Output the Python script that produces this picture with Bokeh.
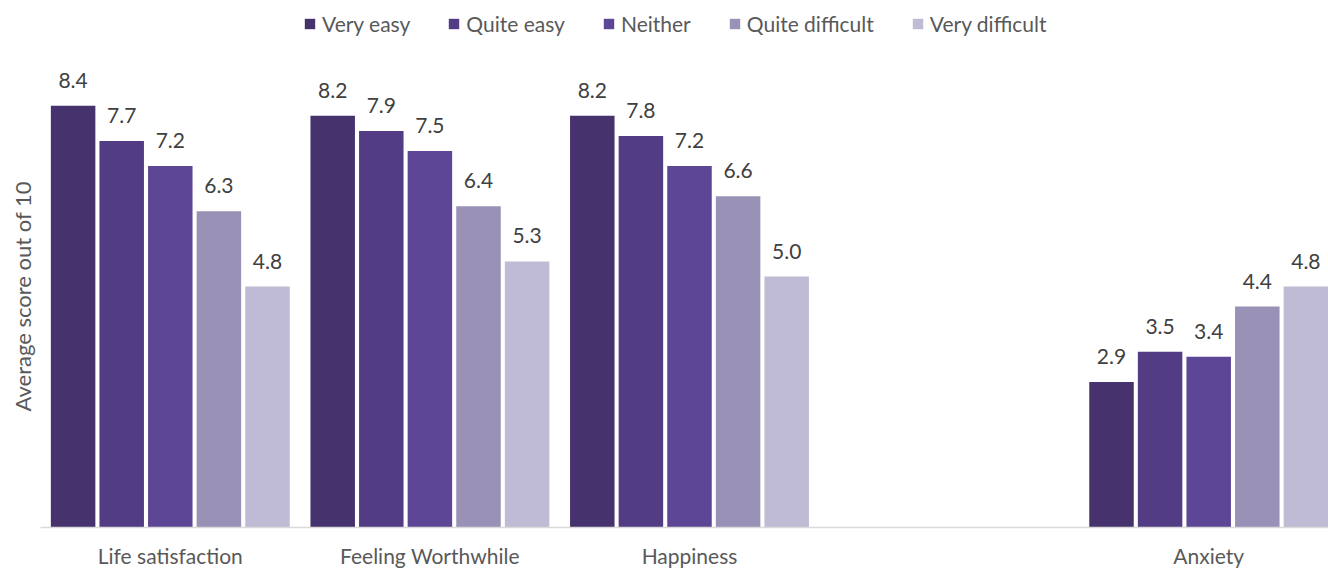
from bokeh.plotting import figure
from bokeh.models import (ColumnDataSource, Range1d, FixedTicker, LabelSet,
                          Legend, LegendItem, Title)
from bokeh.core.properties import value
from bokeh.embed import file_html
from bokeh.resources import INLINE

# Survey results: average wellbeing score out of 10 by how easy people find it to get by
categories = ["Life satisfaction", "Feeling Worthwhile", "Happiness", "Anxiety"]
slots = [0, 1, 2, 4]  # category slot on the axis (slot 3 left empty)
series_names = ["Very easy", "Quite easy", "Neither", "Quite difficult", "Very difficult"]
very_easy = [8.4, 8.2, 8.2, 2.9]
quite_easy = [7.7, 7.9, 7.8, 3.5]
neither = [7.2, 7.5, 7.2, 3.4]
quite_difficult = [6.3, 6.4, 6.6, 4.4]
very_difficult = [4.8, 5.3, 5.0, 4.8]
series_values = [very_easy, quite_easy, neither, quite_difficult, very_difficult]
colors = ["#46326d", "#523c83", "#5e4696", "#9991b6", "#c0bbd4"]

FONT = "Lato"
TEXT = "#595959"
SIZE = "21px"

PX_PER_SLOT = 259.6
PX_PER_UNIT = 50.2
PLOT_W = 1328
PLOT_H = 570
LEFT = 40
BOTTOM = 43
BAR_W = 44.5 / PX_PER_SLOT
PITCH = 48.6 / PX_PER_SLOT

p = figure(width=PLOT_W, height=PLOT_H, output_backend="svg", toolbar_location=None,
           x_range=Range1d(0, (PLOT_W - LEFT) / PX_PER_SLOT),
           y_range=Range1d(0, (PLOT_H - BOTTOM) / PX_PER_UNIT),
           min_border_left=LEFT, min_border_right=0, min_border_bottom=BOTTOM,
           min_border_top=0)
p.outline_line_color = None
p.grid.grid_line_color = None
p.yaxis.visible = False

items = []
for j, (name, vals, col) in enumerate(zip(series_names, series_values, colors)):
    xs = [s + 0.5 + (j - 2) * PITCH for s in slots]
    src = ColumnDataSource(dict(x=xs, top=vals, label=[f"{v:.1f}" for v in vals]))
    r = p.vbar(x="x", top="top", width=BAR_W, source=src, fill_color=col,
               line_color=None)
    items.append(LegendItem(label=name, renderers=[r]))
    p.add_layout(LabelSet(x="x", y="top", text="label", source=src, y_offset=18,
                          text_align="center", text_baseline="alphabetic",
                          text_font=value(FONT), text_font_size=SIZE,
                          text_color="#404040"))

# legend row across the top of the chart
legend = Legend(items=items, orientation="horizontal",
                location=(263, PLOT_H - BOTTOM - 36),
                label_text_font=FONT, label_text_font_size=SIZE,
                label_text_color=TEXT, glyph_width=13, glyph_height=13,
                label_standoff=6, spacing=37, border_line_color=None,
                background_fill_alpha=0, padding=0, margin=0)
p.add_layout(legend, "center")

# vertical axis title
ytitle = Title(text="Average score out of 10", align="left", offset=116,
               text_font=FONT, text_font_size="22px", text_font_style="normal",
               text_color=TEXT, standoff=10)
p.add_layout(ytitle, "left")

# x axis: category names under each group, light baseline, no ticks
p.xaxis.ticker = FixedTicker(ticks=[s + 0.5 for s in slots])
p.xaxis.major_label_overrides = {s + 0.5: c for s, c in zip(slots, categories)}
p.xaxis.major_tick_line_color = None
p.xaxis.minor_tick_line_color = None
p.xaxis.major_tick_out = 0
p.xaxis.axis_line_color = "#d9d9d9"
p.xaxis.axis_line_width = 1.5
p.xaxis.major_label_standoff = 15
p.xaxis.major_label_text_font = FONT
p.xaxis.major_label_text_font_size = SIZE
p.xaxis.major_label_text_color = TEXT

open("out.html", "w").write(file_html(p, INLINE))
